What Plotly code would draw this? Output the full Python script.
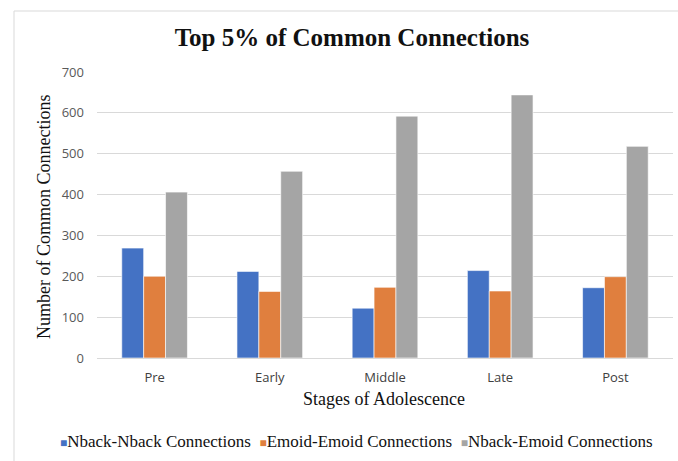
import plotly.graph_objects as go

# Stages of adolescence and connection counts per network pair
stages = ["Pre", "Early", "Middle", "Late", "Post"]
nback_nback = [269, 212, 122, 214, 172]
emoid_emoid = [200, 163, 173, 164, 199]
nback_emoid = [406, 457, 592, 644, 518]

series_names = ["Nback-Nback Connections", "Emoid-Emoid Connections", "Nback-Emoid Connections"]
series_colors = ["#4472C4", "#E07F3E", "#A5A5A5"]
y_ticks = [0, 100, 200, 300, 400, 500, 600, 700]

serif = "Palatino Linotype, Book Antiqua, Liberation Serif, serif"
sans = "Open Sans, Liberation Sans, sans-serif"

fig = go.Figure()
for name, vals, col in zip(series_names, [nback_nback, emoid_emoid, nback_emoid], series_colors):
    fig.add_trace(go.Bar(
        x=stages, y=vals, name=name,
        marker=dict(color=col, line=dict(color="rgba(255,255,255,0.6)", width=1)),
    ))

W, H = 678, 461
L, R, T, B = 97, 5, 72, 103
pw, ph = W - L - R, H - T - B

def px_x(x):
    return (x - L) / pw

def px_y(y):
    return 1 - (y - T) / ph

# Compact one-line legend: small coloured squares followed by series names
legend_text = "&nbsp;&nbsp;".join(
    f"<span style='color:{c};font-size:12px'>■</span>{n}"
    for n, c in zip(series_names, series_colors)
)

fig.update_layout(
    width=W, height=H,
    margin=dict(l=L, r=R, t=T, b=B, autoexpand=False),
    paper_bgcolor="white", plot_bgcolor="white",
    barmode="group", bargap=0.43, bargroupgap=0,
    showlegend=False,
    title=dict(
        text="<b>Top 5% of Common Connections</b>",
        x=352 / W, xref="container", xanchor="center",
        y=1 - 37 / H, yref="container", yanchor="middle",
        font=dict(family=serif, size=25, color="#111111"),
    ),
    xaxis=dict(
        showgrid=False, showline=False, zeroline=False,
        tickfont=dict(family=sans, size=13, color="#404040"),
        ticks="", ticklabelstandoff=10,
    ),
    yaxis=dict(
        range=[0, 700], tickvals=y_ticks,
        showgrid=True, gridcolor="#D9D9D9", gridwidth=1,
        zeroline=True, zerolinecolor="#D9D9D9", zerolinewidth=1,
        showline=False,
        tickfont=dict(family=sans, size=13, color="#595959"),
        ticks="", ticklabelstandoff=12,
    ),
    annotations=[
        dict(text="Stages of Adolescence", xref="paper", yref="paper",
             x=px_x(384), y=px_y(399), xanchor="center", yanchor="middle",
             showarrow=False, font=dict(family=serif, size=18, color="#111111")),
        dict(text="Number of Common Connections", xref="paper", yref="paper",
             x=px_x(44), y=px_y(217), xanchor="center", yanchor="middle", textangle=-90,
             showarrow=False, font=dict(family=serif, size=18, color="#111111")),
        dict(text=legend_text, xref="paper", yref="paper",
             x=px_x(356), y=px_y(441), xanchor="center", yanchor="middle",
             showarrow=False, font=dict(family=serif, size=17, color="#111111")),
    ],
    shapes=[
        dict(type="line", xref="paper", yref="paper",
             x0=px_x(14), x1=px_x(14), y0=px_y(470), y1=px_y(11),
             line=dict(color="#D9D9D9", width=1)),
        dict(type="line", xref="paper", yref="paper",
             x0=px_x(14), x1=px_x(690), y0=px_y(11), y1=px_y(11),
             line=dict(color="#D9D9D9", width=1)),
    ],
)

fig.write_html("out.html")
